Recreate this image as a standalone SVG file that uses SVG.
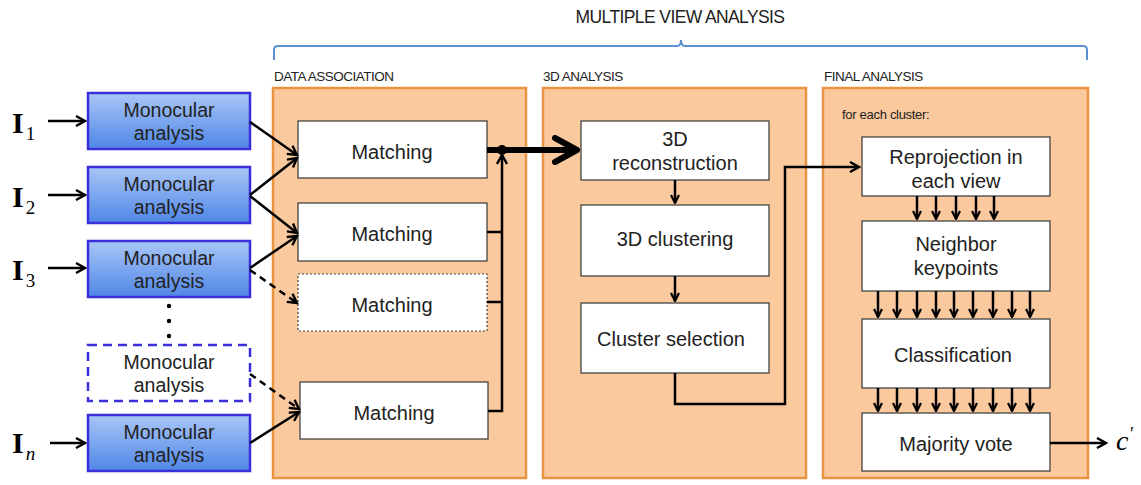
<svg xmlns="http://www.w3.org/2000/svg" width="1141" height="485" viewBox="0 0 1141 485">
<defs>
<linearGradient id="blueg" x1="0" y1="0" x2="0" y2="1">
<stop offset="0" stop-color="#a9c6f7"/>
<stop offset="1" stop-color="#4f86e6"/>
</linearGradient>
<marker id="ah" viewBox="0 0 12 12" refX="10" refY="6" markerWidth="12" markerHeight="12" markerUnits="userSpaceOnUse" orient="auto">
<path d="M1,1 L10,6 L1,11" fill="none" stroke="#000" stroke-width="2.4" stroke-linejoin="miter"/>
</marker>
<marker id="ahs" viewBox="0 0 10 10" refX="9" refY="5" markerWidth="10" markerHeight="10" markerUnits="userSpaceOnUse" orient="auto">
<path d="M1,1 L9,5 L1,9" fill="none" stroke="#000" stroke-width="2.2"/>
</marker>
<marker id="ahb" viewBox="0 0 30 30" refX="27" refY="15" markerWidth="30" markerHeight="30" markerUnits="userSpaceOnUse" orient="auto">
<path d="M4,3 L26,15 L4,27" fill="none" stroke="#000" stroke-width="6" stroke-linecap="round" stroke-linejoin="round"/>
</marker>
</defs>
<style>
.panel{fill:#fbc99e;stroke:#ea9441;stroke-width:2.5}
.plabel{font-family:"Liberation Sans",Arial,sans-serif;font-size:13.5px;fill:#222;letter-spacing:-0.5px}
.mono{fill:url(#blueg);stroke:#3a2fd9;stroke-width:2.5}
.monod{fill:#fff;stroke:#3a2fd9;stroke-width:2.5;stroke-dasharray:9 6}
.box{fill:#fff;stroke:#444;stroke-width:1.3}
.boxd{fill:#fff;stroke:#444;stroke-width:1.2;stroke-dasharray:2 2}
.t{font-family:"Liberation Sans",Arial,sans-serif;font-size:20px;fill:#222;text-anchor:middle}
.tm{font-family:"Liberation Sans",Arial,sans-serif;font-size:19.5px;fill:#222;text-anchor:middle}
.ln{fill:none;stroke:#000;stroke-width:2.5}
.lnd{fill:none;stroke:#000;stroke-width:2.5;stroke-dasharray:7 5}
.I{font-family:"Liberation Serif","Times New Roman",serif;font-size:30px;font-weight:bold;fill:#000}
.sub{font-family:"Liberation Serif","Times New Roman",serif;font-size:19px;font-weight:normal;fill:#000}
</style>

<g id="title">
<text x="680" y="23" font-family="Liberation Sans, Arial, sans-serif" font-size="17.5px" fill="#222" text-anchor="middle" letter-spacing="-0.6">MULTIPLE VIEW ANALYSIS</text>
<path d="M274,60 L274,50 Q274,46 278,46 L677,46 Q681,46 681,40 Q681,46 685,46 L1083,46 Q1087,46 1087,50 L1087,60" fill="none" stroke="#5b8fd1" stroke-width="2"/>
</g>

<g id="panel-data">
<text class="plabel" x="274" y="81">DATA ASSOCIATION</text>
<rect class="panel" x="273" y="88" width="253" height="390"/>
</g>
<g id="panel-3d">
<text class="plabel" x="543" y="81">3D ANALYSIS</text>
<rect class="panel" x="543" y="88" width="263" height="390"/>
</g>
<g id="panel-final">
<text class="plabel" x="824" y="81">FINAL ANALYSIS</text>
<rect class="panel" x="823" y="88" width="265" height="390"/>
<text x="842" y="119" font-family="Liberation Sans, Arial, sans-serif" font-size="13px" fill="#222" letter-spacing="-0.3">for each cluster:</text>
</g>

<g id="inputs">
<text class="I" x="12" y="133">I<tspan class="sub" dx="2" dy="7">1</tspan></text>
<text class="I" x="12" y="207">I<tspan class="sub" dx="2" dy="7">2</tspan></text>
<text class="I" x="12" y="280">I<tspan class="sub" dx="2" dy="7">3</tspan></text>
<text class="I" x="12" y="453">I<tspan class="sub" dx="2" dy="7" font-style="italic">n</tspan></text>
</g>

<g id="mono1"><rect class="mono" x="88" y="93" width="162" height="56"/><text class="tm" x="169" y="117">Monocular</text><text class="tm" x="169" y="140">analysis</text></g>
<g id="mono2"><rect class="mono" x="88" y="167" width="162" height="56"/><text class="tm" x="169" y="191">Monocular</text><text class="tm" x="169" y="214">analysis</text></g>
<g id="mono3"><rect class="mono" x="88" y="241" width="162" height="56"/><text class="tm" x="169" y="265">Monocular</text><text class="tm" x="169" y="288">analysis</text></g>
<g id="dots"><circle cx="169" cy="306" r="2.2" fill="#000"/><circle cx="169" cy="321" r="2.2" fill="#000"/><circle cx="169" cy="336" r="2.2" fill="#000"/></g>
<g id="monod"><rect class="monod" x="88" y="345" width="162" height="56"/><text class="tm" x="169" y="369">Monocular</text><text class="tm" x="169" y="392">analysis</text></g>
<g id="monon"><rect class="mono" x="88" y="415" width="162" height="56"/><text class="tm" x="169" y="439">Monocular</text><text class="tm" x="169" y="462">analysis</text></g>

<g id="match1"><rect class="box" x="298" y="121" width="189" height="57"/><text class="t" x="392" y="159">Matching</text></g>
<g id="match2"><rect class="box" x="298" y="203" width="189" height="58"/><text class="t" x="392" y="241">Matching</text></g>
<g id="match3"><rect class="boxd" x="298" y="274" width="189" height="57"/><text class="t" x="392" y="312">Matching</text></g>
<g id="match4"><rect class="box" x="300" y="382" width="188" height="57"/><text class="t" x="394" y="420">Matching</text></g>

<g id="recon"><rect class="box" x="581" y="121" width="188" height="59"/><text class="t" x="675" y="146">3D</text><text class="t" x="675" y="170">reconstruction</text></g>
<g id="clust"><rect class="box" x="581" y="205" width="188" height="71"/><text class="t" x="675" y="246">3D clustering</text></g>
<g id="select"><rect class="box" x="581" y="303" width="188" height="70"/><text class="t" x="671" y="346">Cluster selection</text></g>

<g id="reproj"><rect class="box" x="862" y="137" width="188" height="59"/><text class="t" x="956" y="164">Reprojection in</text><text class="t" x="956" y="188">each view</text></g>
<g id="neigh"><rect class="box" x="862" y="221" width="188" height="70"/><text class="t" x="956" y="251">Neighbor</text><text class="t" x="956" y="275">keypoints</text></g>
<g id="classif"><rect class="box" x="862" y="319" width="188" height="69"/><text class="t" x="953" y="362">Classification</text></g>
<g id="major"><rect class="box" x="862" y="413" width="188" height="58"/><text class="t" x="956" y="451">Majority vote</text></g>

<g id="output"><text x="1116" y="450" font-family="Liberation Serif, Times New Roman, serif" font-size="28px" font-style="italic" fill="#000">c</text><text x="1130" y="440" font-family="Liberation Serif, Times New Roman, serif" font-size="18px" fill="#000">′</text></g>

<g id="connectors">
<line class="ln" x1="48" y1="121" x2="85" y2="121" marker-end="url(#ah)"/>
<line class="ln" x1="48" y1="195" x2="85" y2="195" marker-end="url(#ah)"/>
<line class="ln" x1="48" y1="268" x2="85" y2="268" marker-end="url(#ah)"/>
<line class="ln" x1="50" y1="443" x2="85" y2="443" marker-end="url(#ah)"/>

<line class="ln" x1="250" y1="122" x2="297" y2="155" marker-end="url(#ah)"/>
<line class="ln" x1="250" y1="195" x2="297" y2="158" marker-end="url(#ah)"/>
<line class="ln" x1="250" y1="196" x2="297" y2="233" marker-end="url(#ah)"/>
<line class="ln" x1="250" y1="268" x2="297" y2="236" marker-end="url(#ah)"/>
<line class="lnd" x1="250" y1="270" x2="297" y2="303" marker-end="url(#ah)"/>
<line class="lnd" x1="250" y1="374" x2="299" y2="409" marker-end="url(#ah)"/>
<line class="ln" x1="250" y1="443" x2="299" y2="412" marker-end="url(#ah)"/>

<polyline class="ln" points="487,232 502,232"/>
<polyline class="ln" points="487,302 502,302"/>
<polyline class="ln" points="488,411 502,411 502,155" marker-end="url(#ah)"/>
<line x1="487" y1="150" x2="578" y2="150" stroke="#000" stroke-width="6" marker-end="url(#ahb)"/>
<circle cx="502" cy="150" r="5" fill="#000"/>

<line class="ln" x1="675" y1="180" x2="675" y2="203" marker-end="url(#ahs)"/>
<line class="ln" x1="675" y1="276" x2="675" y2="301" marker-end="url(#ahs)"/>
<polyline class="ln" points="675,373 675,404 785,404 785,167 859,167" marker-end="url(#ah)"/>

<g id="arr5">
<line class="ln" x1="917" y1="196" x2="917" y2="219" marker-end="url(#ahs)"/>
<line class="ln" x1="936" y1="196" x2="936" y2="219" marker-end="url(#ahs)"/>
<line class="ln" x1="956" y1="196" x2="956" y2="219" marker-end="url(#ahs)"/>
<line class="ln" x1="976" y1="196" x2="976" y2="219" marker-end="url(#ahs)"/>
<line class="ln" x1="994" y1="196" x2="994" y2="219" marker-end="url(#ahs)"/>
</g>
<g id="arr9a">
<line class="ln" x1="878" y1="291" x2="878" y2="317" marker-end="url(#ahs)"/>
<line class="ln" x1="897" y1="291" x2="897" y2="317" marker-end="url(#ahs)"/>
<line class="ln" x1="917" y1="291" x2="917" y2="317" marker-end="url(#ahs)"/>
<line class="ln" x1="936" y1="291" x2="936" y2="317" marker-end="url(#ahs)"/>
<line class="ln" x1="954" y1="291" x2="954" y2="317" marker-end="url(#ahs)"/>
<line class="ln" x1="973" y1="291" x2="973" y2="317" marker-end="url(#ahs)"/>
<line class="ln" x1="993" y1="291" x2="993" y2="317" marker-end="url(#ahs)"/>
<line class="ln" x1="1012" y1="291" x2="1012" y2="317" marker-end="url(#ahs)"/>
<line class="ln" x1="1030" y1="291" x2="1030" y2="317" marker-end="url(#ahs)"/>
</g>
<g id="arr9b">
<line class="ln" x1="878" y1="388" x2="878" y2="411" marker-end="url(#ahs)"/>
<line class="ln" x1="897" y1="388" x2="897" y2="411" marker-end="url(#ahs)"/>
<line class="ln" x1="917" y1="388" x2="917" y2="411" marker-end="url(#ahs)"/>
<line class="ln" x1="936" y1="388" x2="936" y2="411" marker-end="url(#ahs)"/>
<line class="ln" x1="954" y1="388" x2="954" y2="411" marker-end="url(#ahs)"/>
<line class="ln" x1="973" y1="388" x2="973" y2="411" marker-end="url(#ahs)"/>
<line class="ln" x1="993" y1="388" x2="993" y2="411" marker-end="url(#ahs)"/>
<line class="ln" x1="1012" y1="388" x2="1012" y2="411" marker-end="url(#ahs)"/>
<line class="ln" x1="1030" y1="388" x2="1030" y2="411" marker-end="url(#ahs)"/>
</g>
<line class="ln" x1="1050" y1="443" x2="1106" y2="443" marker-end="url(#ah)"/>
</g>
</svg>
